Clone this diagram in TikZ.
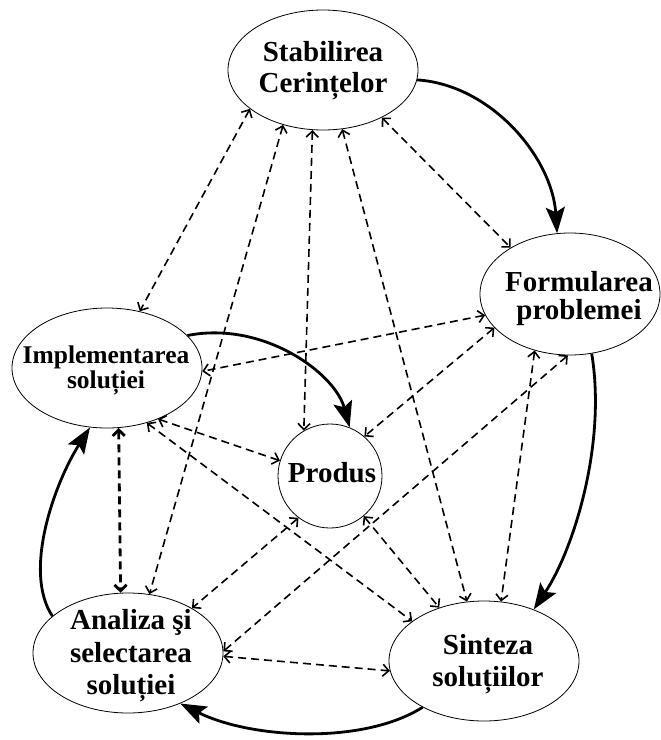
\documentclass[tikz,border=0pt]{standalone}
\usepackage{fontspec}
\setmainfont{Liberation Serif}
\usetikzlibrary{arrows.meta,shapes.geometric}
\begin{document}
\begin{tikzpicture}[x=1pt,y=-1pt,
  oval/.style={draw, line width=0.8pt, ellipse, minimum width=190pt, minimum height=120pt, inner sep=0pt},
  circ/.style={draw, line width=0.8pt, circle, minimum size=104pt, inner sep=0pt},
  lbl/.style={font=\bfseries\fontsize{29}{31}\selectfont, align=center, inner sep=0pt},
  link/.style={dash pattern=on 8pt off 5pt, line width=1.6pt,
    {Straight Barb[length=6pt,width=12pt]}-{Straight Barb[length=6pt,width=12pt]}},
  flow/.style={line width=2.8pt, -{Stealth[length=26pt,width=19pt,inset=5pt]}}]
\path[use as bounding box] (0,0) rectangle (661,740);
% shapes
\node[oval] (stab) at (323,70) {};
\node[oval, minimum width=180pt, minimum height=122pt] (form) at (570,294) {};
\node[oval] (impl) at (107,368) {};
\node[circ] (prod) at (330,476) {};
\node[oval] (anal) at (128,653) {};
\node[oval] (sint) at (484,661) {};
% labels
\node[lbl] (stabt) at (323,71) {Stabilirea\\Cerințelor};
\node[lbl, font=\bfseries\fontsize{29}{28}\selectfont] (formt) at (579,299) {Formularea\\problemei};
\node[lbl, font=\bfseries\fontsize{25.5}{25}\selectfont] (implt) at (106,370) {Implementarea\\soluției};
\node[lbl] (prodt) at (332,473) {Produs};
\node[lbl, font=\bfseries\fontsize{29}{32.5}\selectfont] (analt) at (131,656) {Analiza şi\\selectarea\\soluției};
\node[lbl, font=\bfseries\fontsize{29}{32}\selectfont] (sintt) at (488,664) {Sinteza\\soluțiilor};
% dashed two-way links
\draw[link] (stab.208.9) -- (impl.60.4);
\draw[link] (stab.234.4) -- (anal.70.7);
\draw[link] (stab.260) -- (prod.120.2);
\draw[link] (stab.288.7) -- (sint.106.5);
\draw[link] (stab.321.7) -- (form.142.5);
\draw[link] (form.194.2) -- (impl.358.7);
\draw[link] (form.204.9) -- (prod.49);
\draw[link] (form.238.8) -- (sint.74);
\draw[link] (form.268.3) -- (anal.1);
\draw[link] (impl.315.5) -- (prod.163.7);
\draw[link] (impl.306.1) -- (sint.151.5);
\draw[link, line width=2.8pt] (impl.281.3) -- (anal.97.2);
\draw[link] (prod.233.1) -- (anal.35.3);
\draw[link] (prod.310) -- (sint.130.8);
\draw[link] (anal.358) -- (sint.186.7);
% solid flow
\draw[flow] (stab.354) .. controls +(75,5) and +(-5,-75) .. (form.102.6);
\draw[flow] (form.290.6) .. controls +(15,90) and +(40,-60) .. (sint.46);
\draw[flow] (impl.22.9) .. controls +(75,-15) and +(-15,-55) .. (prod.68.6);
\draw[flow] (anal.154.4) .. controls +(-30,-45) and +(-35,55) .. (impl.254.7);
\draw[flow] (sint.217) .. controls +(-60,38) and +(70,35) .. (anal.316.1);
\end{tikzpicture}
\end{document}
